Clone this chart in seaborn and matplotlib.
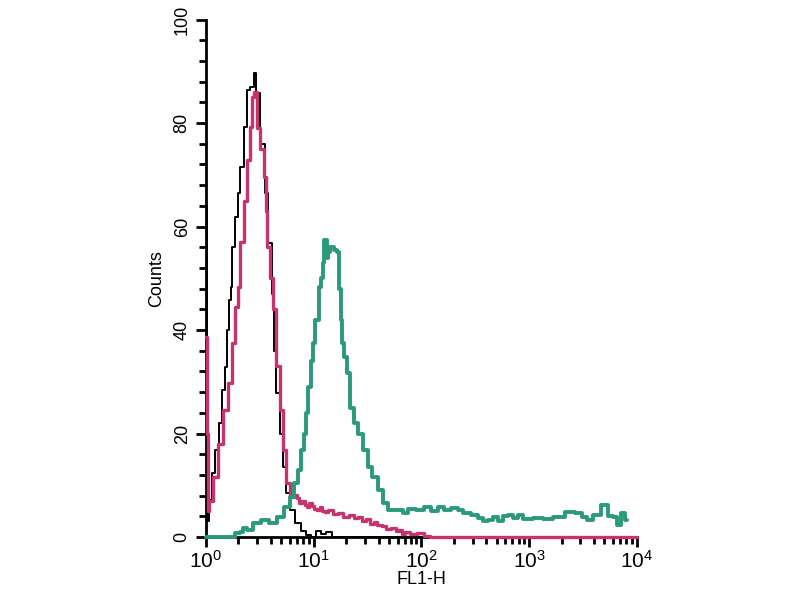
import numpy as np
import pandas as pd
import matplotlib
matplotlib.use("Agg")
import matplotlib.pyplot as plt
import seaborn as sns
from matplotlib.ticker import MultipleLocator, LogLocator, NullFormatter, FixedLocator

# ---- data (log10 of FL1-H, counts) ----
black_logx = [0.0, 0.015, 0.037, 0.065, 0.102, 0.130, 0.158, 0.195, 0.204, 0.223, 0.241, 0.251,
              0.288, 0.297, 0.334, 0.362, 0.390, 0.427, 0.455, 0.473, 0.520, 0.566, 0.594,
              0.622, 0.640, 0.668, 0.705, 0.733, 0.761, 0.798, 0.854, 0.90, 0.947, 0.993,
              1.04, 1.09, 1.13, 1.20, 2.0, 3.0, 4.0]
black_counts = [64, 3, 7.1, 12.4, 16.8, 22, 28.4, 32.8, 40, 45.8, 48.3, 56,
                61.8, 66.5, 71.5, 79.2, 86.4, 87, 89.7, 85.8, 76, 66.5, 56.8,
                47, 36, 27.8, 20, 13.5, 8.5, 5.2, 2.7, 1.2, 0.3, 0,
                1.2, 0.5, 1.0, 0, 0, 0, 0]

magenta_logx = [0.0, 0.01, 0.02, 0.037, 0.083, 0.130, 0.176, 0.223, 0.251, 0.288, 0.297,
                0.334, 0.362, 0.390, 0.427, 0.436, 0.455, 0.483, 0.520, 0.548, 0.566,
                0.575, 0.612, 0.640, 0.668, 0.705, 0.733, 0.761, 0.798, 0.83, 0.854, 0.88,
                0.90, 0.93, 0.947, 0.97, 0.993, 1.02, 1.04, 1.07, 1.09, 1.12, 1.15, 1.20,
                1.25, 1.30, 1.35, 1.40, 1.43, 1.47, 1.50, 1.54, 1.57, 1.61, 1.65, 1.70,
                1.74, 1.78, 1.80, 1.83, 1.86, 1.92, 1.99, 2.05, 2.1, 3.0, 4.0]
magenta_counts = [38.6, 20, 5, 7, 11.6, 18, 24.5, 29.8, 37.5, 44.4, 48.3,
                  57, 65, 72.9, 79.2, 85, 86, 79, 75, 69.6, 63,
                  56, 50, 44, 33, 24.5, 16.8, 10.4, 7.7, 8.2, 7.5, 6.6,
                  7.0, 6.2, 5.8, 6.6, 6.0, 5.4, 5.2, 5.8, 5.0, 4.8, 5.2, 4.4,
                  4.6, 3.8, 4.2, 3.6, 3.8, 3.0, 3.4, 2.6, 2.9, 2.4, 2.2, 1.6,
                  1.7, 1.2, 1.3, 0.6, 1.0, 0.5, 0.8, 0.2, 0, 0, 0]

green_logx = [0.0, 0.25, 0.29, 0.34, 0.35, 0.41, 0.47, 0.55, 0.62, 0.69, 0.75, 0.80, 0.84,
              0.87, 0.90, 0.92, 0.94, 0.95, 0.99, 1.00, 1.03, 1.06, 1.08, 1.09, 1.11, 1.13,
              1.14, 1.17, 1.20, 1.23, 1.24, 1.26, 1.27, 1.29, 1.32, 1.35, 1.40, 1.43, 1.48,
              1.52, 1.57, 1.62, 1.66, 1.71, 1.80, 1.85, 1.90, 1.99, 2.05, 2.13, 2.18, 2.23,
              2.32, 2.36, 2.41, 2.50, 2.55, 2.60, 2.64, 2.69, 2.73, 2.78, 2.83, 2.87, 2.92,
              2.97, 3.10, 3.15, 3.29, 3.38, 3.47, 3.52, 3.56, 3.63, 3.71, 3.76, 3.80, 3.83,
              3.87, 3.91]
green_counts = [0, 0, 0.8, 1.0, 1.7, 1.3, 2.7, 3.3, 2.7, 3.9, 5.8, 7.7, 10.4,
                13, 16.8, 20, 24, 29, 34, 37.5, 42, 48.3, 50, 53, 57.4, 54,
                55, 56, 55.5, 55, 48, 42, 37.5, 34.8, 31.7, 25, 22, 20, 16.8,
                13.5, 11.6, 9, 6.6, 5.2, 5.2, 4.6, 5.4, 5.2, 5.8, 5.0, 5.8, 5.2,
                5.6, 5.2, 4.6, 4.3, 3.6, 3.0, 3.2, 3.8, 3.0, 4.0, 4.2, 3.6, 4.3,
                3.4, 3.7, 3.4, 3.9, 4.8, 4.6, 3.8, 3.3, 4.2, 6.2, 4.0, 3.9, 2.3,
                4.6, 3.3]

y_ticks = [0, 20, 40, 60, 80, 100]
x_tick_labels = ["$10^{0}$", "$10^{1}$", "$10^{2}$", "$10^{3}$", "$10^{4}$"]

sns.set_theme(style="white")
plt.rcParams['font.family'] = ['Liberation Sans', 'DejaVu Sans']
plt.rcParams['mathtext.fontset'] = 'custom'
plt.rcParams['mathtext.rm'] = 'Liberation Sans'
plt.rcParams['mathtext.it'] = 'Liberation Sans'
plt.rcParams['text.color'] = 'black'
plt.rcParams['axes.labelcolor'] = 'black'
plt.rcParams['xtick.color'] = 'black'
plt.rcParams['ytick.color'] = 'black'

fig = plt.figure(figsize=(8, 6), dpi=100)
ax = fig.add_axes([0.2575, 0.105, 0.796 - 0.2575, 0.9675 - 0.105])

def df_of(lx, cnt):
    return pd.DataFrame({"x": np.power(10.0, lx), "y": cnt})

sns.lineplot(data=df_of(black_logx, black_counts), x="x", y="y", ax=ax,
             color="black", linewidth=1.4, drawstyle="steps-mid", zorder=3, clip_on=False)
sns.lineplot(data=df_of(magenta_logx, magenta_counts), x="x", y="y", ax=ax,
             color="#c8336e", linewidth=2.4, drawstyle="steps-mid", zorder=4, clip_on=False)
sns.lineplot(data=df_of(green_logx, green_counts), x="x", y="y", ax=ax,
             color="#2a9a7a", linewidth=2.8, drawstyle="steps-mid", zorder=5, clip_on=False)

ax.set_xscale("log")
ax.set_xlim(1, 1e4)
ax.set_ylim(0, 100)

for s in ["top", "right"]:
    ax.spines[s].set_visible(False)
for s in ["left", "bottom"]:
    ax.spines[s].set_color("black")
    ax.spines[s].set_linewidth(2.0)
    ax.spines[s].set_zorder(1)

ax.xaxis.set_major_locator(FixedLocator([1, 10, 100, 1000, 10000]))
ax.set_xticklabels(x_tick_labels, fontsize=15)
ax.xaxis.set_minor_locator(LogLocator(base=10, subs=np.arange(2, 10), numticks=20))
ax.xaxis.set_minor_formatter(NullFormatter())

ax.set_yticks(y_ticks)
ax.set_yticklabels([str(v) for v in y_ticks], fontsize=13, rotation=90, va="center")
ax.yaxis.set_minor_locator(MultipleLocator(4))

ax.tick_params(axis="both", which="major", direction="out", length=7, width=2,
               color="black", bottom=True, left=True)
ax.tick_params(axis="both", which="minor", direction="out", length=5, width=2,
               color="black", bottom=True, left=True)
ax.tick_params(axis="x", pad=2)
ax.tick_params(axis="y", pad=4)

ax.set_xlabel("FL1-H", fontsize=13, labelpad=0, color="black")
ax.set_ylabel("Counts", fontsize=13, labelpad=6, color="black")
ax.grid(False)

fig.savefig("out.png", dpi=100)
